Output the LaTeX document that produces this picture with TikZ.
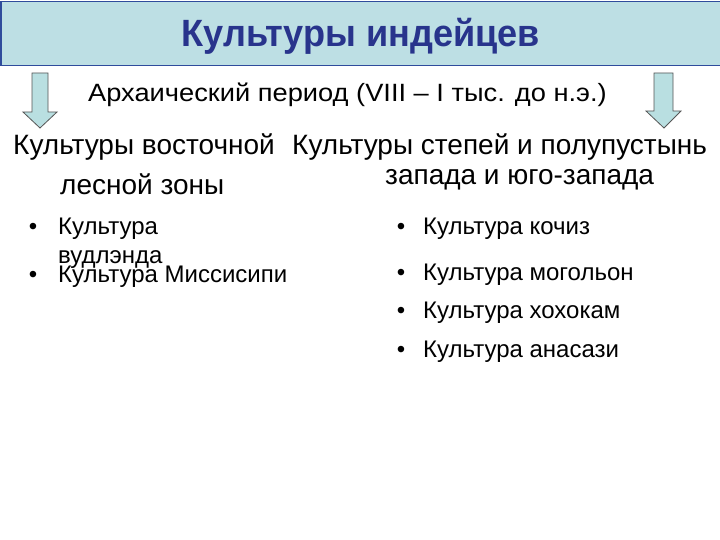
\documentclass[tikz,border=0pt]{standalone}
\usepackage{fontspec}
\setmainfont{Liberation Sans}
\definecolor{titlefill}{HTML}{BDDFE4}
\definecolor{titleborder}{HTML}{2F4C9C}
\definecolor{titletext}{HTML}{28348C}
\definecolor{arrowfill}{HTML}{B9DFE1}
\definecolor{arrowline}{HTML}{555555}
\tikzset{
  txt/.style={anchor=base west, inner sep=0pt, font=\fontsize{24}{28}\selectfont},
  head/.style={anchor=base west, inner sep=0pt, font=\fontsize{28}{32}\selectfont},
  bul/.style={anchor=base, inner sep=0pt, font=\fontsize{24}{28}\selectfont},
  downarrow/.style={fill=arrowfill, draw=arrowline, line width=0.8pt, line join=miter}
}
\begin{document}
\begin{tikzpicture}[x=1pt,y=-1pt]
\useasboundingbox (0,0) rectangle (720,540);
\fill[white] (0,0) rectangle (720,540);
% title bar
\path[fill=titlefill, draw=titleborder, line width=1.6pt] (1,1.5) rectangle (725,65.5);
\node[anchor=base, inner sep=0pt, text=titletext] (title) at (361,47)
  {\scalebox{0.95}[1]{\fontsize{38}{42}\selectfont\bfseries Культуры индейцев}};
% arrows
\path[downarrow] (32,73) -- (48,73) -- (48,112) -- (57,112) -- (40,128) -- (23,112) -- (32,112) -- cycle;
\path[downarrow] (654,73) -- (673,73) -- (673,111) -- (681,111) -- (664,128) -- (646,111) -- (654,111) -- cycle;
% subtitle
\node[anchor=base west, inner sep=0pt] (period) at (88,102)
  {\scalebox{1.09}[1]{\fontsize{25}{29}\selectfont Архаический период (VIII – I тыс. до н.э.)}};
% headers
\node[head] (h1) at (13,155) {Культуры восточной};
\node[head] (h2) at (292,155) {Культуры степей и полупустынь};
\node[head] (h1b) at (60,195) {лесной зоны};
\node[head] (h2b) at (385,185) {запада и юго-запада};
% left list
\node[bul] (lb1) at (33,235) {•};
\node[txt] (l1) at (58,235) {Культура};
\node[txt] (l1b) at (58,263) {вудлэнда};
\node[bul] (lb2) at (33,282) {•};
\node[txt] (l2) at (58,282) {Культура Миссисипи};
% right list
\node[bul] (rb1) at (401,235) {•};
\node[txt] (r1) at (423,235) {Культура кочиз};
\node[bul] (rb2) at (401,280) {•};
\node[txt] (r2) at (423,280) {Культура могольон};
\node[bul] (rb3) at (401,318) {•};
\node[txt] (r3) at (423,318) {Культура хохокам};
\node[bul] (rb4) at (401,357) {•};
\node[txt] (r4) at (423,357) {Культура анасази};
\end{tikzpicture}
\end{document}
